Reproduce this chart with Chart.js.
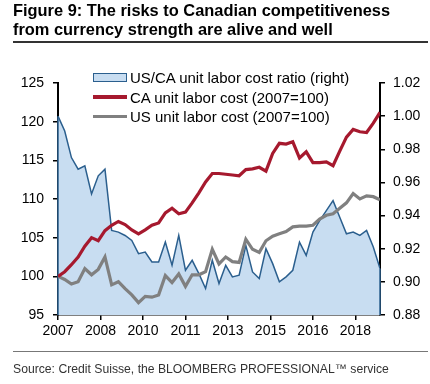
<!DOCTYPE html>
<html><head><meta charset="utf-8">
<script src="https://cdn.jsdelivr.net/npm/chart.js@4"></script>
<style>
html,body{margin:0;padding:0;background:#fff;}
#wrap{position:relative;width:430px;height:384px;overflow:hidden;font-family:"Liberation Sans",Arial,sans-serif;}
#title{position:absolute;left:13px;top:1px;font-weight:bold;font-size:16.4px;line-height:19px;color:#000;white-space:nowrap;}
#rule1{position:absolute;left:13px;top:41px;width:415px;height:2px;background:#333;}
#rule2{position:absolute;left:13px;top:351px;width:415px;height:1px;background:#777;}
#source{position:absolute;left:13px;top:362px;font-size:12.2px;color:#333;white-space:nowrap;}
canvas{position:absolute;left:0;top:0;}
#legend{position:absolute;left:93px;top:68px;font-size:15px;color:#000;}
.li{height:19.4px;display:flex;align-items:center;white-space:nowrap;}
.sym{width:34px;margin-right:3px;box-sizing:border-box;flex:none;}
.box{height:9px;background:#c8ddf1;border:1.5px solid #2b5f8e;}
.ln{height:3.5px;}
</style>
</head><body>
<div id="wrap">
  <canvas id="c" width="430" height="384"></canvas>
  <div id="title">Figure 9: The risks to Canadian competitiveness<br>from currency strength are alive and well</div>
  <div id="rule1"></div>
  <div id="legend">
    <div class="li"><div class="sym box"></div>US/CA unit labor cost ratio (right)</div>
    <div class="li"><div class="sym ln" style="background:#a6192e"></div>CA unit labor cost (2007=100)</div>
    <div class="li"><div class="sym ln" style="background:#808080"></div>US unit labor cost (2007=100)</div>
  </div>
  <div id="rule2"></div>
  <div id="source">Source: Credit Suisse, the BLOOMBERG PROFESSIONAL™ service</div>
</div>
<script>
// Quarterly, 2007Q1 .. 2019Q1
const categories = [
 '2007Q1','2007Q2','2007Q3','2007Q4','2008Q1','2008Q2','2008Q3','2008Q4',
 '2009Q1','2009Q2','2009Q3','2009Q4','2010Q1','2010Q2','2010Q3','2010Q4',
 '2011Q1','2011Q2','2011Q3','2011Q4','2012Q1','2012Q2','2012Q3','2012Q4',
 '2013Q1','2013Q2','2013Q3','2013Q4','2014Q1','2014Q2','2014Q3','2014Q4',
 '2015Q1','2015Q2','2015Q3','2015Q4','2016Q1','2016Q2','2016Q3','2016Q4',
 '2017Q1','2017Q2','2017Q3','2017Q4','2018Q1','2018Q2','2018Q3','2018Q4',
 '2019Q1'];
const ratioUSCA = [1.000,0.991,0.975,0.968,0.970,0.953,0.964,0.968,
 0.931,0.930,0.928,0.925,0.917,0.918,0.912,0.912,
 0.924,0.910,0.928,0.907,0.913,0.905,0.896,0.913,
 0.899,0.910,0.903,0.904,0.922,0.906,0.902,0.920,
 0.911,0.900,0.903,0.907,0.924,0.916,0.930,0.937,
 0.943,0.949,0.939,0.929,0.930,0.928,0.931,0.921,
 0.908];
const caULC = [100.0,100.6,101.5,102.5,103.9,105.0,104.6,105.9,
 106.6,107.1,106.7,106.0,105.5,106.0,106.6,106.9,
 108.2,108.8,108.1,108.3,109.5,110.8,112.2,113.3,
 113.3,113.2,113.1,113.0,113.8,113.9,114.1,113.6,
 115.9,117.2,117.1,117.4,115.3,116.1,114.7,114.7,
 114.8,114.3,116.2,118.0,119.0,118.7,118.6,119.8,
 121.2];
const usULC = [100.0,99.6,99.0,99.3,101.0,100.2,100.9,102.5,
 98.9,99.3,98.4,97.6,96.6,97.4,97.3,97.6,
 100.1,99.2,100.3,98.7,100.2,100.2,100.6,103.5,
 101.6,102.5,101.9,101.8,104.8,103.5,103.1,104.6,
 105.2,105.5,105.8,106.4,106.5,106.5,106.6,107.4,
 107.9,108.1,108.8,109.5,110.7,110.0,110.4,110.3,
 109.9];
const xTickLabels = ['2007','2008','2010','2011','2013','2015','2016','2018'];
const leftTicks = {min:95, max:125, step:5};
const rightTicks = {min:0.88, max:1.02, step:0.02};

const toXY = arr => arr.map((v,i)=>({x:i, y:v}));

const areaEdges = {
  id:'areaEdges',
  afterDatasetDraw(chart, args){
    if(args.index!==0) return;
    const pts = chart.getDatasetMeta(0).data;
    const c = chart.ctx, bottom = chart.chartArea.bottom;
    c.save();
    c.strokeStyle = '#2b5f8e'; c.lineWidth = 1.5;
    [pts[0], pts[pts.length-1]].forEach(p=>{
      c.beginPath(); c.moveTo(p.x, p.y); c.lineTo(p.x, bottom); c.stroke();
    });
    c.restore();
  }
};

const font = {family:'"Liberation Sans", Arial, sans-serif', size:14};

new Chart(document.getElementById('c'), {
  type:'line',
  data:{datasets:[
    {label:'US/CA unit labor cost ratio (right)', data:toXY(ratioUSCA), yAxisID:'y1',
     borderColor:'#2b5f8e', borderWidth:1.5, backgroundColor:'#c8ddf1', fill:'start',
     pointRadius:0, tension:0, order:3},
    {label:'CA unit labor cost (2007=100)', data:toXY(caULC), yAxisID:'y',
     borderColor:'#a6192e', borderWidth:3.2, fill:false, pointRadius:0, tension:0, order:1},
    {label:'US unit labor cost (2007=100)', data:toXY(usULC), yAxisID:'y',
     borderColor:'#808080', borderWidth:3.2, fill:false, pointRadius:0, tension:0, order:2}
  ]},
  options:{
    responsive:false, animation:false,
    layout:{padding:{top:83,left:0,right:0,bottom:0}},
    plugins:{legend:{display:false}, tooltip:{enabled:false}},
    scales:{
      x:{type:'linear', min:0, max:categories.length-1,
         afterBuildTicks:s=>{ s.ticks = xTickLabels.map((_,k)=>({value:k*19/3})); },
         ticks:{callback:(v,idx)=>xTickLabels[idx], font, color:'#000', maxRotation:0, autoSkip:false, padding:3},
         grid:{drawOnChartArea:false, drawTicks:true, tickLength:5, color:'#000', lineWidth:1.5},
         border:{display:true, color:'#000', width:1.5},
         afterFit:s=>{ s.height = 69; }},
      y:{position:'left', min:leftTicks.min, max:leftTicks.max,
         ticks:{stepSize:leftTicks.step, font, color:'#000', padding:9},
         grid:{drawOnChartArea:false, drawTicks:true, tickLength:5, color:'#000', lineWidth:1.5},
         border:{display:true, color:'#000', width:2},
         afterFit:s=>{ s.width = 58; }},
      y1:{position:'right', min:rightTicks.min, max:rightTicks.max,
         ticks:{stepSize:rightTicks.step, font, color:'#000', padding:8, callback:v=>v.toFixed(2)},
         grid:{drawOnChartArea:false, drawTicks:true, tickLength:5, color:'#000', lineWidth:1.5},
         border:{display:true, color:'#000', width:2},
         afterFit:s=>{ s.width = 50; }}
    }
  },
  plugins:[areaEdges]
});
</script>
</body></html>
